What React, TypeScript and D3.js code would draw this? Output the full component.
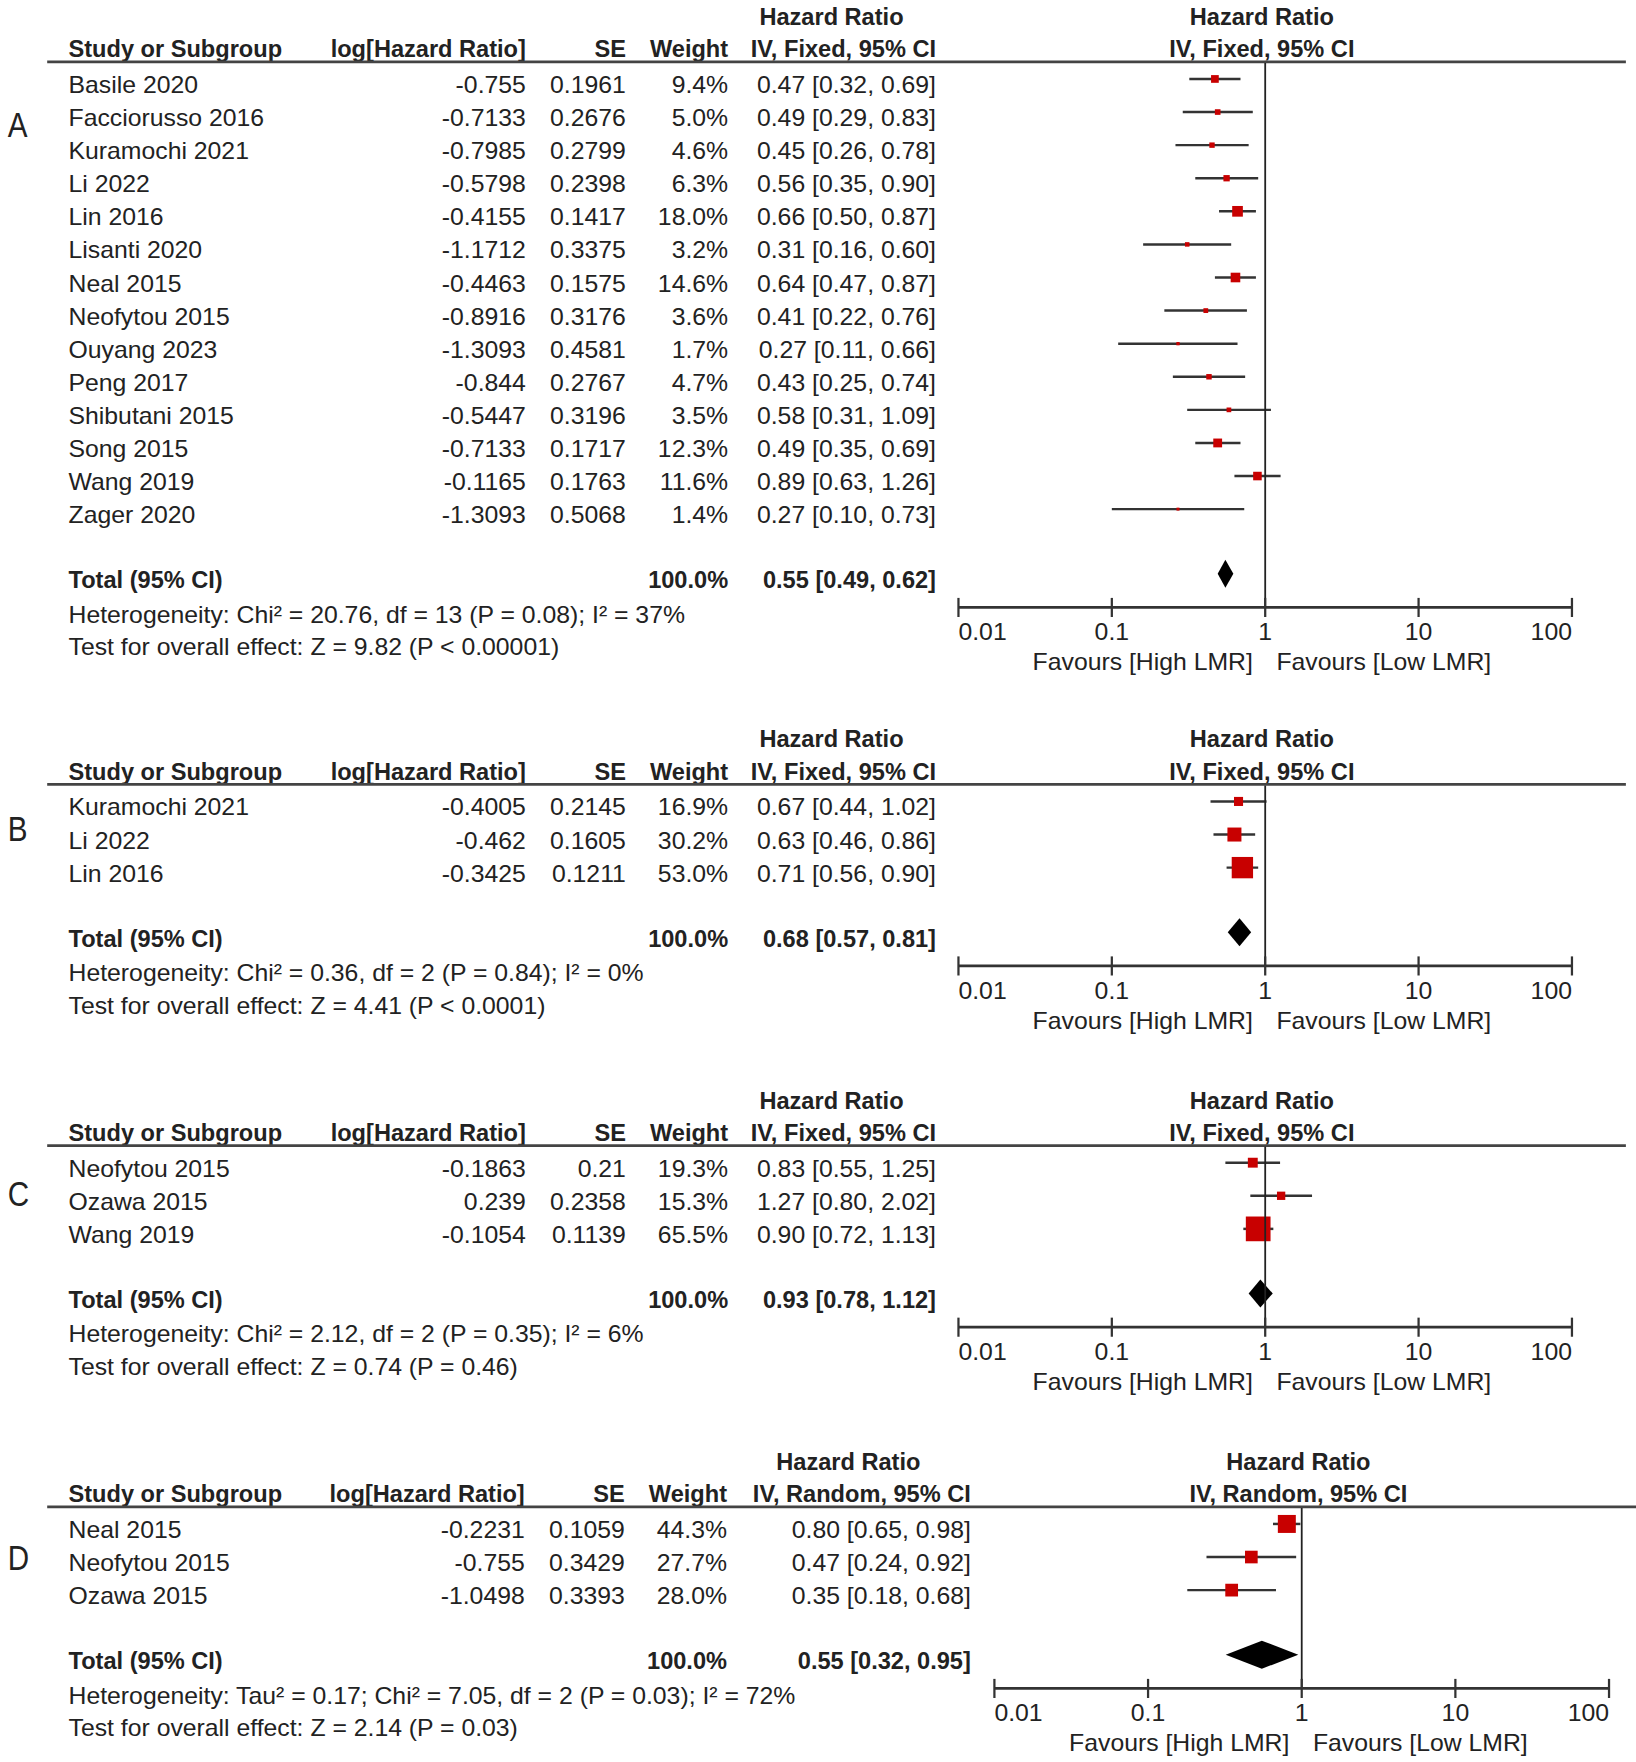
import * as d3 from 'd3';

// ---- data ----
interface Study {
  name: string;
  logHR: string;
  se: string;
  weight: number;
  hr: number;
  lo: number;
  hi: number;
}

const studiesA: Study[] = [
  { name: 'Basile 2020', logHR: '-0.755', se: '0.1961', weight: 9.4, hr: 0.47, lo: 0.32, hi: 0.69 },
  { name: 'Facciorusso 2016', logHR: '-0.7133', se: '0.2676', weight: 5.0, hr: 0.49, lo: 0.29, hi: 0.83 },
  { name: 'Kuramochi 2021', logHR: '-0.7985', se: '0.2799', weight: 4.6, hr: 0.45, lo: 0.26, hi: 0.78 },
  { name: 'Li 2022', logHR: '-0.5798', se: '0.2398', weight: 6.3, hr: 0.56, lo: 0.35, hi: 0.90 },
  { name: 'Lin 2016', logHR: '-0.4155', se: '0.1417', weight: 18.0, hr: 0.66, lo: 0.50, hi: 0.87 },
  { name: 'Lisanti 2020', logHR: '-1.1712', se: '0.3375', weight: 3.2, hr: 0.31, lo: 0.16, hi: 0.60 },
  { name: 'Neal 2015', logHR: '-0.4463', se: '0.1575', weight: 14.6, hr: 0.64, lo: 0.47, hi: 0.87 },
  { name: 'Neofytou 2015', logHR: '-0.8916', se: '0.3176', weight: 3.6, hr: 0.41, lo: 0.22, hi: 0.76 },
  { name: 'Ouyang 2023', logHR: '-1.3093', se: '0.4581', weight: 1.7, hr: 0.27, lo: 0.11, hi: 0.66 },
  { name: 'Peng 2017', logHR: '-0.844', se: '0.2767', weight: 4.7, hr: 0.43, lo: 0.25, hi: 0.74 },
  { name: 'Shibutani 2015', logHR: '-0.5447', se: '0.3196', weight: 3.5, hr: 0.58, lo: 0.31, hi: 1.09 },
  { name: 'Song 2015', logHR: '-0.7133', se: '0.1717', weight: 12.3, hr: 0.49, lo: 0.35, hi: 0.69 },
  { name: 'Wang 2019', logHR: '-0.1165', se: '0.1763', weight: 11.6, hr: 0.89, lo: 0.63, hi: 1.26 },
  { name: 'Zager 2020', logHR: '-1.3093', se: '0.5068', weight: 1.4, hr: 0.27, lo: 0.10, hi: 0.73 },
];

const studiesB: Study[] = [
  { name: 'Kuramochi 2021', logHR: '-0.4005', se: '0.2145', weight: 16.9, hr: 0.67, lo: 0.44, hi: 1.02 },
  { name: 'Li 2022', logHR: '-0.462', se: '0.1605', weight: 30.2, hr: 0.63, lo: 0.46, hi: 0.86 },
  { name: 'Lin 2016', logHR: '-0.3425', se: '0.1211', weight: 53.0, hr: 0.71, lo: 0.56, hi: 0.90 },
];

const studiesC: Study[] = [
  { name: 'Neofytou 2015', logHR: '-0.1863', se: '0.21', weight: 19.3, hr: 0.83, lo: 0.55, hi: 1.25 },
  { name: 'Ozawa 2015', logHR: '0.239', se: '0.2358', weight: 15.3, hr: 1.27, lo: 0.80, hi: 2.02 },
  { name: 'Wang 2019', logHR: '-0.1054', se: '0.1139', weight: 65.5, hr: 0.90, lo: 0.72, hi: 1.13 },
];

const studiesD: Study[] = [
  { name: 'Neal 2015', logHR: '-0.2231', se: '0.1059', weight: 44.3, hr: 0.80, lo: 0.65, hi: 0.98 },
  { name: 'Neofytou 2015', logHR: '-0.755', se: '0.3429', weight: 27.7, hr: 0.47, lo: 0.24, hi: 0.92 },
  { name: 'Ozawa 2015', logHR: '-1.0498', se: '0.3393', weight: 28.0, hr: 0.35, lo: 0.18, hi: 0.68 },
];

// pooled estimates [hr, lo, hi]
const totals: [number, number, number][] = [
  [0.55, 0.49, 0.62],
  [0.68, 0.57, 0.81],
  [0.93, 0.78, 1.12],
  [0.55, 0.32, 0.95],
];

const heterogeneity = [
  'Heterogeneity: Chi² = 20.76, df = 13 (P = 0.08); I² = 37%',
  'Heterogeneity: Chi² = 0.36, df = 2 (P = 0.84); I² = 0%',
  'Heterogeneity: Chi² = 2.12, df = 2 (P = 0.35); I² = 6%',
  'Heterogeneity: Tau² = 0.17; Chi² = 7.05, df = 2 (P = 0.03); I² = 72%',
];

const overallEffect = [
  'Test for overall effect: Z = 9.82 (P < 0.00001)',
  'Test for overall effect: Z = 4.41 (P < 0.0001)',
  'Test for overall effect: Z = 0.74 (P = 0.46)',
  'Test for overall effect: Z = 2.14 (P = 0.03)',
];

const methods = ['IV, Fixed, 95% CI', 'IV, Fixed, 95% CI', 'IV, Fixed, 95% CI', 'IV, Random, 95% CI'];
const panelLetters = ['A', 'B', 'C', 'D'];
const axisTicks = [0.01, 0.1, 1, 10, 100];
const tickLabels = ['0.01', '0.1', '1', '10', '100'];
const favoursLeft = 'Favours [High LMR]';
const favoursRight = 'Favours [Low LMR]';

const allStudies = [studiesA, studiesB, studiesC, studiesD];

// ---- layout (in a 1456 x 1568 design space) ----
const VW = 1456;
const VH = 1568;
const headerLineY = [54, 697, 1018.5, 1340];
const letterY = [122, 748, 1073, 1397];
const maxBox = [9.5, 19, 22, 16];
const boxExp = [0.5, 0.75, 0.75, 0.75];
const ROW0 = 28.7;
const PITCH = 29.45;

const colsFixed = { logHR: 468, se: 557, weight: 648, ci: 833, hrTitle: 740, plot: [853, 1399], lineEnd: 1447 };
const colsRandom = { logHR: 467, se: 556, weight: 647, ci: 864, hrTitle: 755, plot: [885, 1432], lineEnd: 1456 };

const INK = '#222';
const RED = '#c80000';
const FONT = '"Liberation Sans", Arial, Helvetica, sans-serif';

const fmtCI = (hr: number, lo: number, hi: number) =>
  `${hr.toFixed(2)} [${lo.toFixed(2)}, ${hi.toFixed(2)}]`;

interface TProps {
  x: number;
  y: number;
  anchor?: 'start' | 'middle' | 'end';
  bold?: boolean;
  sx?: number;
  size?: number;
  children: React.ReactNode;
}

const T = ({ x, y, anchor = 'start', bold = false, sx, size = 21, children }: TProps) => (
  <text
    transform={`translate(${x},${y}) scale(${sx ?? (bold ? 1 : 1.05)},1)`}
    textAnchor={anchor}
    fontWeight={bold ? 'bold' : 'normal'}
    fontSize={size}
    fill={INK}
  >
    {children}
  </text>
);

const Panel = ({ idx }: { idx: number }) => {
  const studies = allStudies[idx];
  const cols = idx === 3 ? colsRandom : colsFixed;
  const top = headerLineY[idx];
  const [tHr, tLo, tHi] = totals[idx];

  const x = d3.scaleLog().domain([0.01, 100]).range(cols.plot);
  const rowY = d3.scaleLinear().domain([0, 1]).range([top + ROW0, top + ROW0 + PITCH]);

  const lastY = rowY(studies.length - 1);
  const totalY = lastY + 58;
  const hetY = totalY + 30.5;
  const testY = hetY + 29;
  const axisY = totalY + 17;

  const maxW = d3.max(studies, (d) => d.weight) ?? 1;
  const box = d3.scalePow().exponent(boxExp[idx]).domain([0, maxW]).range([0, maxBox[idx]]);

  const x1 = x(1);
  const diamondY = totalY - 13;
  const diamond = d3.line()([
    [x(tLo), diamondY],
    [x(tHr), diamondY - 12.5],
    [x(tHi), diamondY],
    [x(tHr), diamondY + 12.5],
  ]) + 'Z';

  return (
    <g>
      {/* panel letter */}
      <T x={7} y={letterY[idx]} sx={0.85} size={31}>
        {panelLetters[idx]}
      </T>

      {/* column titles */}
      <T x={cols.hrTitle} y={top - 32} anchor="middle" bold>
        Hazard Ratio
      </T>
      <T x={x1 - 3} y={top - 32} anchor="middle" bold>
        Hazard Ratio
      </T>
      <T x={61} y={top - 3} bold>
        Study or Subgroup
      </T>
      <T x={cols.logHR} y={top - 3} anchor="end" bold>
        log[Hazard Ratio]
      </T>
      <T x={cols.se} y={top - 3} anchor="end" bold>
        SE
      </T>
      <T x={cols.weight} y={top - 3} anchor="end" bold>
        Weight
      </T>
      <T x={cols.ci} y={top - 3} anchor="end" bold>
        {methods[idx]}
      </T>
      <T x={x1 - 3} y={top - 3} anchor="middle" bold>
        {methods[idx]}
      </T>

      <line x1={42} x2={cols.lineEnd} y1={top + 1} y2={top + 1} stroke="#444" strokeWidth={2.6} />

      {/* study rows */}
      {studies.map((d, i) => {
        const y = rowY(i);
        const my = y - 12.5;
        const s = box(d.weight);
        return (
          <g key={d.name}>
            <T x={61} y={y}>{d.name}</T>
            <T x={cols.logHR} y={y} anchor="end">{d.logHR}</T>
            <T x={cols.se} y={y} anchor="end">{d.se}</T>
            <T x={cols.weight} y={y} anchor="end">{`${d.weight.toFixed(1)}%`}</T>
            <T x={cols.ci} y={y} anchor="end">{fmtCI(d.hr, d.lo, d.hi)}</T>
            <line x1={x(d.lo)} x2={x(d.hi)} y1={my} y2={my} stroke="#333" strokeWidth={2.2} />
            <rect x={x(d.hr) - s / 2} y={my - s / 2} width={s} height={s} fill={RED} />
          </g>
        );
      })}

      {/* total */}
      <T x={61} y={totalY} bold>Total (95% CI)</T>
      <T x={cols.weight} y={totalY} anchor="end" bold>100.0%</T>
      <T x={cols.ci} y={totalY} anchor="end" bold>{fmtCI(tHr, tLo, tHi)}</T>
      <path d={diamond} fill="#000" />
      <T x={61} y={hetY}>{heterogeneity[idx]}</T>
      <T x={61} y={testY}>{overallEffect[idx]}</T>

      {/* line of no effect */}
      <line x1={x1} x2={x1} y1={top + 2} y2={axisY} stroke={INK} strokeWidth={1.6} />

      {/* axis */}
      <line x1={cols.plot[0]} x2={cols.plot[1]} y1={axisY} y2={axisY} stroke="#333" strokeWidth={2.4} />
      {axisTicks.map((t, i) => (
        <g key={t}>
          <line x1={x(t)} x2={x(t)} y1={axisY - 8.5} y2={axisY + 8.5} stroke="#333" strokeWidth={2} />
          <T
            x={x(t)}
            y={axisY + 29}
            anchor={i === 0 ? 'start' : i === axisTicks.length - 1 ? 'end' : 'middle'}
          >
            {tickLabels[i]}
          </T>
        </g>
      ))}
      <T x={x1 - 11} y={axisY + 56} anchor="end">{favoursLeft}</T>
      <T x={x1 + 10} y={axisY + 56}>{favoursRight}</T>
    </g>
  );
};

export default function App() {
  return (
    <svg
      width={1636}
      height={1762}
      viewBox={`0 0 ${VW} ${VH}`}
      style={{ position: 'absolute', left: 0, top: 0, background: '#fff' }}
      fontFamily={FONT}
    >
      <rect width={VW} height={VH} fill="#fff" />
      {panelLetters.map((_, i) => (
        <Panel key={i} idx={i} />
      ))}
    </svg>
  );
}
